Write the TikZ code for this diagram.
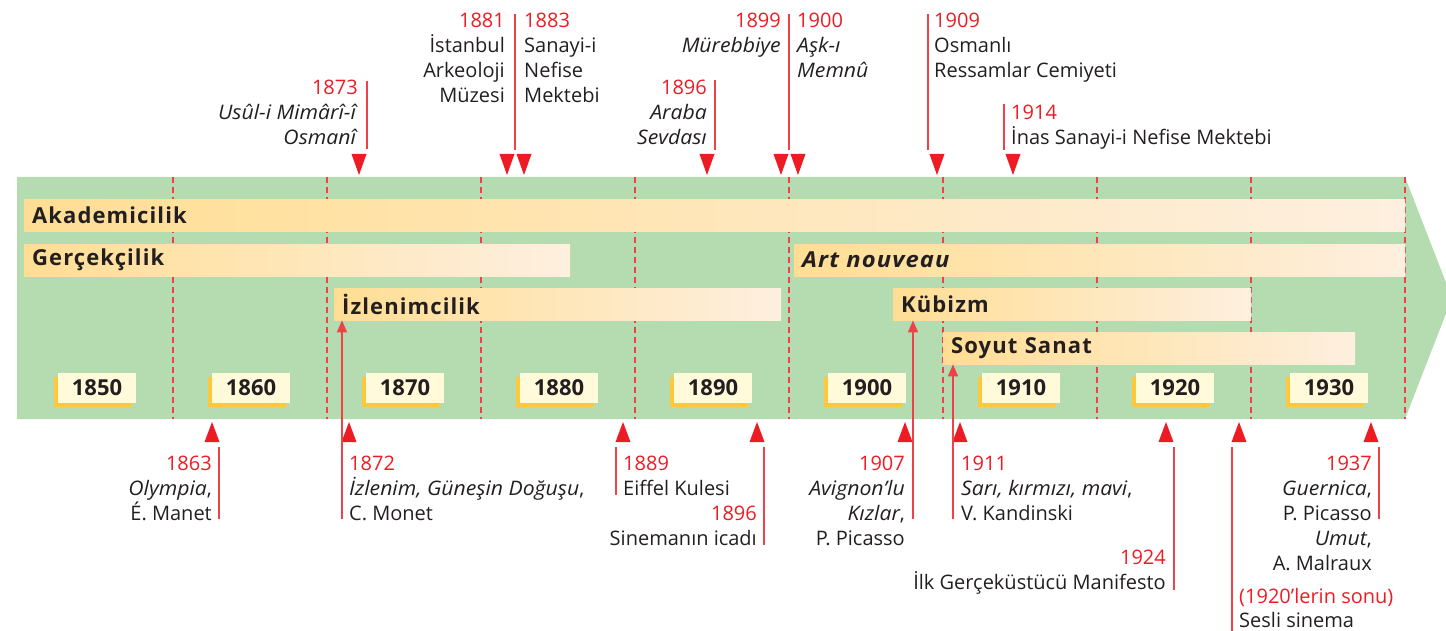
\documentclass[tikz,border=0pt]{standalone}
\usepackage{fontspec}
\setmainfont{Open Sans}[ItalicFeatures={FakeStretch=1.06}]
\newfontfamily\barfont{Open Sans}[LetterSpace=5,BoldItalicFeatures={FakeStretch=1.08}]
\usetikzlibrary{arrows.meta,shadows}
\definecolor{tred}{RGB}{237,28,36}
\definecolor{tline}{RGB}{238,66,72}
\definecolor{tgreen}{RGB}{181,219,176}
\definecolor{tdark}{RGB}{35,31,32}
\definecolor{tcream}{RGB}{255,250,218}
\definecolor{tyel}{RGB}{255,200,60}
\definecolor{barL}{RGB}{255,222,148}
\definecolor{barR}{RGB}{254,239,223}
\newcommand\Rlines[2][25pt]{\vtop{\baselineskip=#1\lineskiplimit=-30pt\halign{\hfil##\cr#2\crcr}}}
\newcommand\Llines[2][25pt]{\vtop{\baselineskip=#1\lineskiplimit=-30pt\halign{##\hfil\cr#2\crcr}}}
\newcommand\yr[1]{\textcolor{tred}{#1}}
\tikzset{
  evt/.style={inner sep=0pt, text=tdark, font=\fontsize{20}{25}\selectfont},
  evline/.style={draw=tline, line width=1.5pt},
  bar/.style={anchor=north west, inner xsep=8pt, inner ysep=0pt, minimum height=32pt,
    left color=barL, right color=barR, text=tdark, align=left,
    font=\barfont\bfseries\fontsize{22}{26}\selectfont},
  ybox/.style={fill=tcream, minimum width=78pt, minimum height=30pt, inner sep=0pt,
    text=tdark, font=\bfseries\fontsize{22}{26}\selectfont,
    general shadow={fill=tyel, shadow xshift=-4pt, shadow yshift=-4pt}},
  dtri/.pic={\fill[tred] (-7.5,0) -- (7.5,0) -- (0,21) -- cycle;},
  utri/.pic={\fill[tred] (-7.5,0) -- (7.5,0) -- (0,-20) -- cycle;},
  uparr/.style={evline, -{Triangle[width=10pt,length=12pt]}}
}
\begin{document}
\begin{tikzpicture}[x=1pt,y=-1pt]
\useasboundingbox (0,0) rectangle (1446,631);
% band
\fill[tgreen] (17,177) -- (1405,177) -- (1452,298) -- (1405,419) -- (17,419) -- cycle;
\foreach \k in {0,...,8}
  \draw[tline, line width=1.2pt, dash pattern=on 6pt off 4pt] ({173+154*\k},177) -- ({173+154*\k},419);
% bars
\node[bar, text width=1365pt] (akad) at (24,199) {Akademicilik};
\node[bar, text width=530pt] (gerc) at (24,244) {Gerçekçilik};
\node[bar, text width=431pt] (izl) at (334,288) {İzlenimcilik};
\node[bar, text width=595pt] (art) at (794,244) {\itshape Art nouveau};
\node[bar, text width=342pt] (kub) at (893,288) {Kübizm};
\node[bar, text width=396pt] (soy) at (943,332) {Soyut Sanat};
% year boxes
\node[ybox] (y1850) at (97,388) {1850};
\node[ybox] (y1860) at (251,388) {1860};
\node[ybox] (y1870) at (405,388) {1870};
\node[ybox] (y1880) at (559,388) {1880};
\node[ybox] (y1890) at (713,388) {1890};
\node[ybox] (y1900) at (867,388) {1900};
\node[ybox] (y1910) at (1021,388) {1910};
\node[ybox] (y1920) at (1175,388) {1920};
\node[ybox] (y1930) at (1329,388) {1930};
% top triangles
\foreach \x in {359,507,524,707,781,798,937,1013} \pic at (\x,154) {dtri};
% bottom triangles
\foreach \x in {212,349,623,757,905,960,1166,1239,1371} \pic at (\x,442) {utri};
% top lines
\coordinate (a1873) at (367,81);  \coordinate (b1873) at (367,149);
\coordinate (a1881) at (515,14);  \coordinate (b1881) at (515,150);
\coordinate (a1896) at (715,80);  \coordinate (b1896) at (715,150);
\coordinate (a1899) at (789,14);  \coordinate (b1899) at (789,150);
\coordinate (a1909) at (928,14);  \coordinate (b1909) at (928,150);
\coordinate (a1914) at (1004,104); \coordinate (b1914) at (1004,150);
\foreach \n in {1873,1881,1896,1899,1909,1914} \draw[evline] (a\n) -- (b\n);
% bottom lines
\coordinate (c1863) at (219,447); \coordinate (d1863) at (219,519);
\coordinate (c1889) at (616,447); \coordinate (d1889) at (616,495);
\coordinate (c1896) at (764,447); \coordinate (d1896) at (764,545);
\coordinate (c1924) at (1174,447); \coordinate (d1924) at (1174,590);
\coordinate (c1920) at (1232,447); \coordinate (d1920) at (1232,631);
\coordinate (c1937) at (1379,447); \coordinate (d1937) at (1379,519);
\foreach \n in {1863,1889,1896,1924,1920,1937} \draw[evline] (c\n) -- (d\n);
% lines into bars
\coordinate (d1872) at (342,519);
\coordinate (d1907) at (913,519);
\coordinate (d1911) at (953,519);
\draw[uparr] (d1872) -- (d1872 |- izl.south);
\draw[uparr] (d1907) -- (d1907 |- kub.south);
\draw[uparr] (d1911) -- (d1911 |- soy.south);
% top texts
\node[evt, anchor=base east] (t1873) at (358,95) {\Rlines{\yr{1873}\cr\textit{Usûl-i Mimârî-î}\cr\textit{Osmanî}}};
\node[evt, anchor=base east] (t1881) at (505,28) {\Rlines{\yr{1881}\cr İstanbul\cr Arkeoloji\cr Müzesi}};
\node[evt, anchor=base west] (t1883) at (524,28) {\Llines{\yr{1883}\cr Sanayi-i\cr Nefise\cr Mektebi}};
\node[evt, anchor=base east] (t1896a) at (707,95) {\Rlines{\yr{1896}\cr\textit{Araba}\cr\textit{Sevdası}}};
\node[evt, anchor=base east] (t1899) at (781,28) {\Rlines{\yr{1899}\cr\textit{Mürebbiye}}};
\node[evt, anchor=base west] (t1900) at (797,28) {\Llines{\yr{1900}\cr\textit{Aşk-ı}\cr\textit{Memnû}}};
\node[evt, anchor=base west] (t1909) at (934,28) {\Llines{\yr{1909}\cr Osmanlı\cr Ressamlar Cemiyeti}};
\node[evt, anchor=base west] (t1914) at (1011,120) {\Llines{\yr{1914}\cr İnas Sanayi-i Nefise Mektebi}};
% bottom texts
\node[evt, anchor=base east] (t1863) at (212,470) {\Rlines{\yr{1863}\cr\textit{Olympia},\cr É. Manet}};
\node[evt, anchor=base west] (t1872) at (349,470) {\Llines{\yr{1872}\cr\textit{İzlenim, Güneşin Doğuşu},\cr C. Monet}};
\node[evt, anchor=base west] (t1889) at (623,470) {\Llines{\yr{1889}\cr Eiffel Kulesi}};
\node[evt, anchor=base east] (t1896b) at (757,520) {\Rlines{\yr{1896}\cr Sinemanın icadı}};
\node[evt, anchor=base east] (t1907) at (905,470) {\Rlines{\yr{1907}\cr\textit{Avignon’lu}\cr\textit{Kızlar},\cr P. Picasso}};
\node[evt, anchor=base west] (t1911) at (961,470) {\Llines{\yr{1911}\cr\textit{Sarı, kırmızı, mavi},\cr V. Kandinski}};
\node[evt, anchor=base east] (t1924) at (1166,564) {\Rlines{\yr{1924}\cr İlk Gerçeküstücü Manifesto}};
\node[evt, anchor=base east] (t1937) at (1372,470) {\Rlines{\yr{1937}\cr\textit{Guernica},\cr P. Picasso\cr\textit{Umut},\cr A. Malraux}};
\node[evt, anchor=base west] (t1920) at (1239,603) {\Llines[24pt]{\yr{(1920’lerin sonu)}\cr Sesli sinema}};
\end{tikzpicture}
\end{document}
